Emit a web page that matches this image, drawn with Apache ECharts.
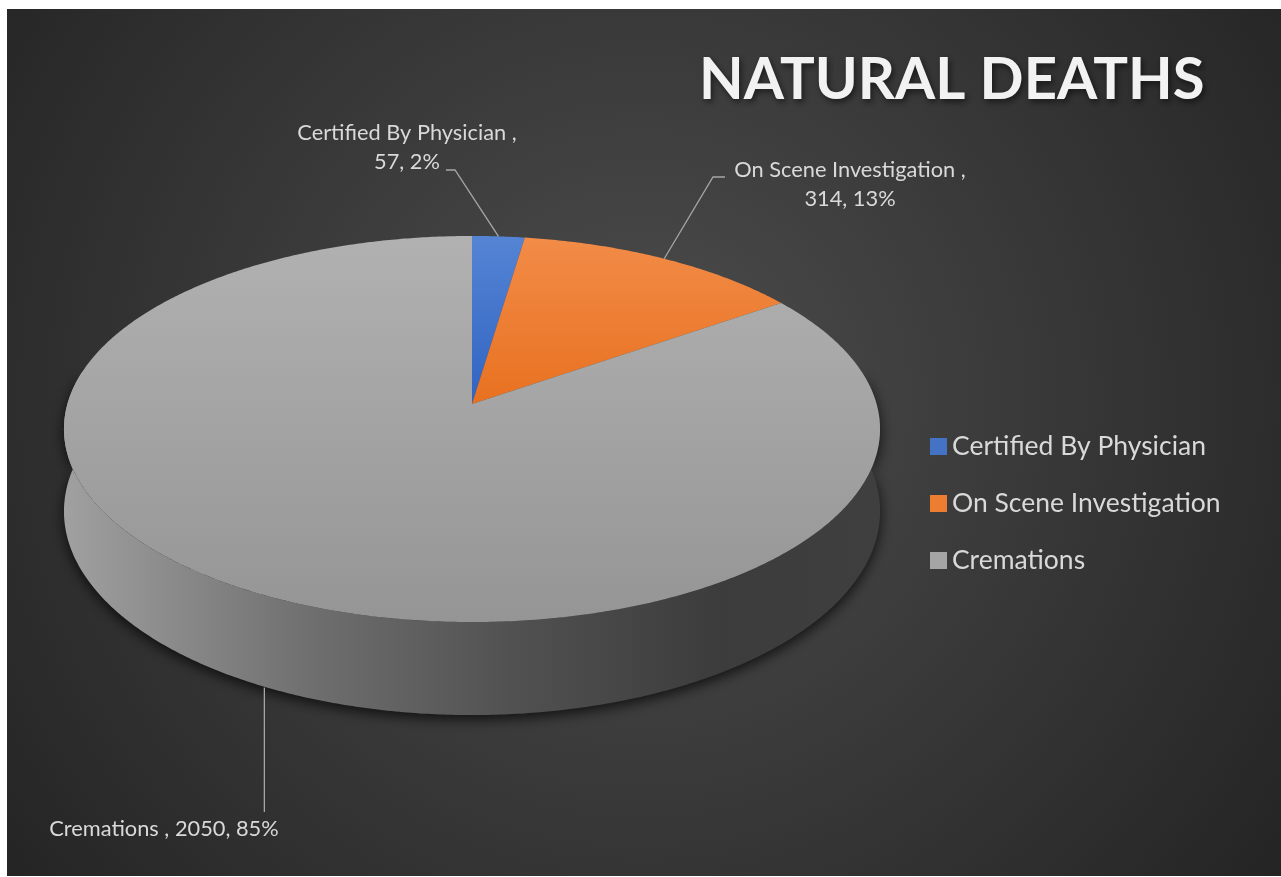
<!DOCTYPE html>
<html><head><meta charset="utf-8">
<script src="https://cdn.jsdelivr.net/npm/echarts@6.0.0/dist/echarts.min.js"></script>
<style>html,body{margin:0;padding:0;background:#ffffff;}#c{width:1281px;height:877px;}</style>
</head><body><div id="c"></div>
<script>
// ---- data ----
const categories = ['Certified By Physician', 'On Scene Investigation', 'Cremations'];
const values = [57, 314, 2050];
const titleText = 'NATURAL DEATHS';

// ---- derived ----
const total = values.reduce((a, b) => a + b, 0);
const startAngles = [], endAngles = [];
let acc = 0;
values.forEach(v => { startAngles.push(acc / total * 360); acc += v; endAngles.push(acc / total * 360); });
const pct = values.map(v => Math.round(v / total * 100));

// ---- layout / style ----
const G = { cx: 472, cy: 404, A: 404.6, P: 189.8, k: 0.1295, d: 81 };
function proj(theta, drop) {
  const r = theta * Math.PI / 180, u = Math.sin(r), v = -Math.cos(r), w = 1 - G.k * v;
  return [G.cx + G.A * u / w, G.cy + G.P * v / w + (drop ? G.d / w : 0)];
}
const legendColors = ['#4472C4', '#ED7D31', '#A5A5A5'];
const topFill = [
  { type: 'linear', x: 0, y: 236, x2: 0, y2: 622, global: true, colorStops: [{ offset: 0, color: '#5584d4' }, { offset: 0.45, color: '#2f63c2' }, { offset: 1, color: '#2f63c2' }] },
  { type: 'linear', x: 0, y: 236, x2: 0, y2: 622, global: true, colorStops: [{ offset: 0, color: '#f28c48' }, { offset: 0.45, color: '#e8701f' }, { offset: 1, color: '#e8701f' }] },
  { type: 'linear', x: 0, y: 236, x2: 0, y2: 622, global: true, colorStops: [{ offset: 0, color: '#b1b1b1' }, { offset: 1, color: '#959595' }] }
];
const wallFill = { type: 'linear', x: 65, y: 0, x2: 880, y2: 0, global: true, colorStops: [
  { offset: 0, color: '#a0a0a0' }, { offset: 0.3, color: '#6f6f6f' }, { offset: 0.55, color: '#515151' }, { offset: 0.8, color: '#3c3c3c' }, { offset: 1, color: '#3f3f3f' }] };
const labelLayout = [
  { pos: [407, 147], elbow: [[455, 170], [446, 170]], text: i => categories[i] + ' ,\n' + values[i] + ', ' + pct[i] + '%' },
  { pos: [850, 184], elbow: [[713, 177], [725, 177]], text: i => categories[i] + ' ,\n' + values[i] + ', ' + pct[i] + '%' },
  { pos: [164, 829], elbow: null, vertEnd: 812, text: i => categories[i] + ' , ' + values[i] + ', ' + pct[i] + '%' }
];
const labelFont = '21.8px Lato';

function makeRender(i) {
  return function (params, api) {
    const s = startAngles[i], e = endAngles[i];
    const children = [];
    const ws = Math.max(s, 80), we = Math.min(e, 280);
    if (we > ws) {
      const pts = [];
      for (let t = ws; t < we; t += 0.5) pts.push(proj(t, false));
      pts.push(proj(we, false));
      pts.push(proj(we, true));
      for (let t = we; t > ws; t -= 0.5) pts.push(proj(t, true));
      pts.push(proj(ws, true));
      children.push({ type: 'polygon', shape: { points: pts }, style: { fill: wallFill, shadowBlur: 14, shadowColor: 'rgba(0,0,0,0.75)', shadowOffsetY: 4 } });
    }
    const top = [[G.cx, G.cy]];
    for (let t = s; t < e; t += 0.5) top.push(proj(t, false));
    top.push(proj(e, false));
    children.push({ type: 'polygon', shape: { points: top }, style: { fill: topFill[i] } });
    // leader line
    const mid = (s + e) / 2, L = labelLayout[i];
    let line;
    if (L.elbow) {
      line = [proj(mid, false)].concat(L.elbow);
    } else {
      const p = proj(mid, true);
      line = [[p[0] + 4, p[1] + 2], [p[0] + 4, L.vertEnd]];
    }
    children.push({ type: 'polyline', shape: { points: line }, style: { stroke: '#a6a6a6', lineWidth: 1.3, fill: null } });
    children.push({ type: 'text', style: { text: L.text(i), x: L.pos[0], y: L.pos[1], align: 'center', verticalAlign: 'middle', textAlign: 'center', textVerticalAlign: 'middle', font: labelFont, fill: '#d9d9d9', lineHeight: 29 } });
    return { type: 'group', children };
  };
}

const chart = echarts.init(document.getElementById('c'));
chart.setOption({
  backgroundColor: 'transparent',
  animation: false,
  graphic: [{
    type: 'rect', z: -10, silent: true,
    shape: { x: 7, y: 9, width: 1274, height: 867 },
    style: { fill: { type: 'radial', x: 640, y: 400, r: 800, global: true, colorStops: [{ offset: 0, color: '#4d4d4d' }, { offset: 1, color: '#242424' }] } }
  }],
  title: {
    text: titleText, left: 694, top: 46,
    textStyle: { color: '#f2f2f2', fontSize: 58, fontWeight: 'bold', fontFamily: 'Lato', textShadowColor: 'rgba(0,0,0,0.55)', textShadowBlur: 6, textShadowOffsetX: 2, textShadowOffsetY: 3 }
  },
  legend: {
    data: categories, orient: 'vertical', left: 925, top: 428, icon: 'rect', itemWidth: 17, itemHeight: 17, itemGap: 30,
    textStyle: { color: '#d9d9d9', fontSize: 26.5, fontFamily: 'Lato' }
  },
  series: categories.map((name, i) => ({
    type: 'custom', name, coordinateSystem: 'none',
    itemStyle: { color: legendColors[i] },
    data: [values[i]],
    renderItem: makeRender(i)
  }))
});
</script></body></html>
